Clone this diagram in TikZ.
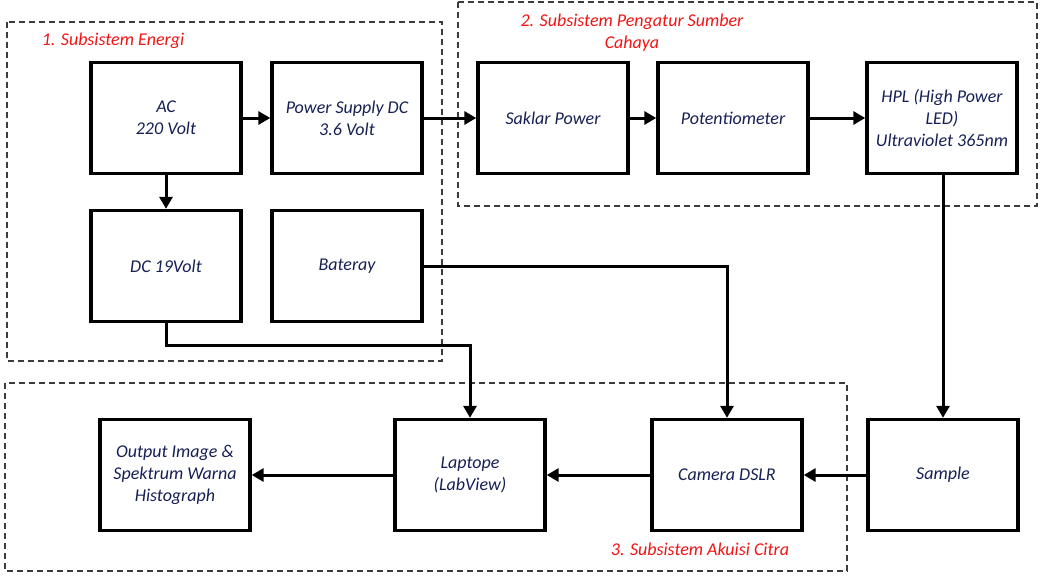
\documentclass[tikz,border=0pt]{standalone}
\usepackage{fontspec}
\setmainfont{Carlito}
\usetikzlibrary{arrows.meta}
\definecolor{txt}{RGB}{22,32,84}
\definecolor{lbl}{RGB}{240,20,20}
\definecolor{dsh}{RGB}{60,60,60}
\tikzset{
  blk/.style={draw, line width=3.4pt, minimum width=150pt, minimum height=111pt, align=center, text=txt, font=\fontsize{18}{22}\selectfont\itshape, inner sep=0pt},
  grp/.style={draw=dsh, line width=1.1pt, dash pattern=on 6pt off 4pt},
  conn/.style={line width=3pt, -{Triangle[length=12pt,width=13pt]}},
  glbl/.style={text=lbl, font=\fontsize{18}{22}\selectfont\itshape, align=center, inner sep=0pt}
}
\begin{document}
\begin{tikzpicture}[x=1pt,y=-1pt]
\useasboundingbox (0,0) rectangle (1042,579);
% group boxes
\draw[grp] (7,22) rectangle (442,361);
\draw[grp] (458,2) rectangle (1037,206);
\draw[grp] (5,383) rectangle (847,571);
\node[glbl] (l1) at (113,41) {1. Subsistem Energi};
\node[glbl] (l2) at (632,33) {2. Subsistem Pengatur Sumber\\Cahaya};
\node[glbl] (l3) at (700,549) {3. Subsistem Akuisi Citra};
% blocks
\node[blk] (ac) at (166,118) {AC\\220 Volt};
\node[blk] (ps) at (347,118) {Power Supply DC\\3.6 Volt};
\node[blk] (dc) at (166,266) {DC 19Volt};
\node[blk] (bat) at (347,266) {Bateray};
\node[blk] (sak) at (553,118) {Saklar Power};
\node[blk] (pot) at (733,118) {Potentiometer};
\node[blk] (hpl) at (942,118) {HPL (High Power\\LED)\\Ultraviolet 365nm};
\node[blk] (out) at (175,475) {Output Image \&\\Spektrum Warna\\Histograph};
\node[blk] (lap) at (470,475) {Laptope\\(LabView)};
\node[blk] (cam) at (727,475) {Camera DSLR};
\node[blk] (smp) at (943,475) {Sample};
% connectors
\draw[conn] (ac) -- (ps);
\draw[conn] (ac) -- (dc);
\draw[conn] (ps) -- (sak);
\draw[conn] (sak) -- (pot);
\draw[conn] (pot) -- (hpl);
\draw[conn] (hpl.south -| smp.north) -- (smp);
\draw[conn] (bat.east) -| (cam.north);
\coordinate (dcturn) at (166,345);
\draw[conn] (dc.south) -- (dcturn) -| (lap.north);
\draw[conn] (smp) -- (cam);
\draw[conn] (cam) -- (lap);
\draw[conn] (lap) -- (out);
\end{tikzpicture}
\end{document}
